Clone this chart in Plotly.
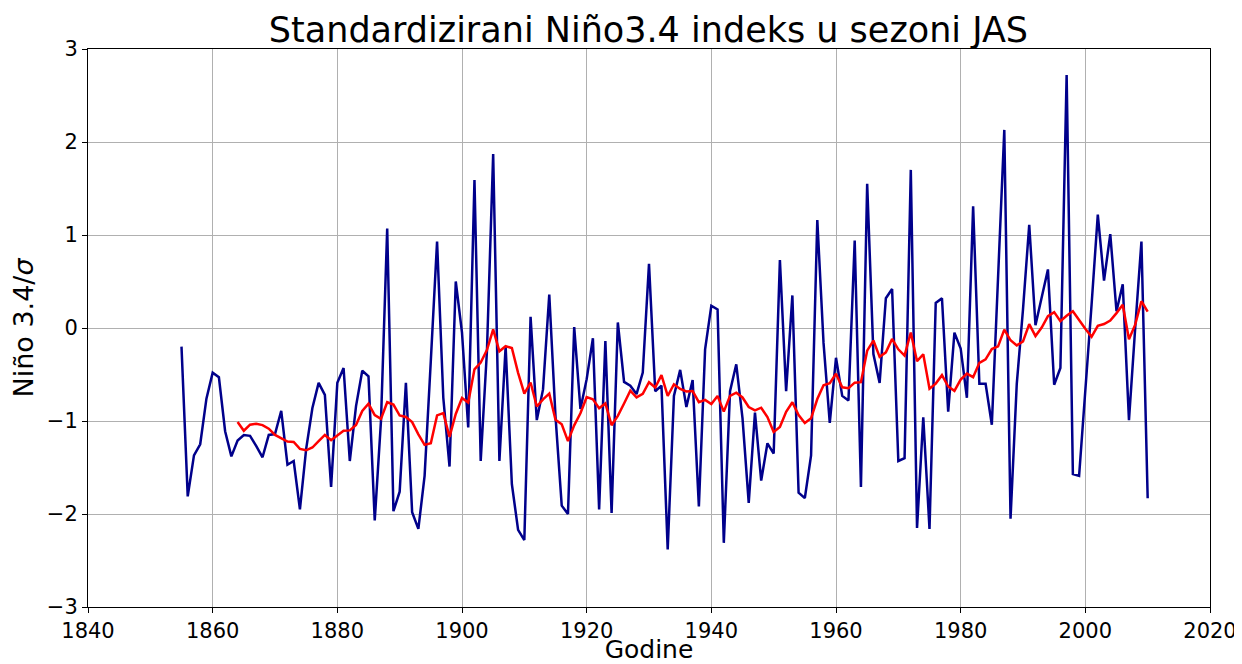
import pandas as pd
import plotly.graph_objects as go

years = list(range(1855, 2011))
nino34 = [
    -0.20, -1.81, -1.37, -1.25, -0.76, -0.48, -0.53, -1.11, -1.38, -1.21,  # 1855-1864
    -1.15, -1.16, -1.27, -1.39, -1.15, -1.14, -0.89, -1.47, -1.43, -1.95,  # 1865-1874
    -1.30, -0.86, -0.59, -0.72, -1.71, -0.59, -0.43, -1.43, -0.84, -0.46,  # 1875-1884
    -0.52, -2.07, -1.00, 1.07, -1.97, -1.76, -0.59, -1.98, -2.16, -1.59,   # 1885-1894
    -0.35, 0.93, -0.75, -1.49, 0.50, -0.05, -1.07, 1.59, -1.43, -0.25,     # 1895-1904
    1.87, -1.43, -0.20, -1.68, -2.17, -2.28, 0.12, -0.99, -0.66, 0.36,     # 1905-1914
    -0.95, -1.91, -2.00, 0.01, -0.87, -0.55, -0.11, -1.95, -0.14, -1.99,   # 1915-1924
    0.06, -0.58, -0.62, -0.71, -0.48, 0.69, -0.68, -0.62, -2.38, -0.73,    # 1925-1934
    -0.45, -0.85, -0.56, -1.92, -0.23, 0.24, 0.20, -2.31, -0.68, -0.39,    # 1935-1944
    -0.97, -1.88, -0.91, -1.64, -1.24, -1.35, 0.73, -0.68, 0.35, -1.77,    # 1945-1954
    -1.83, -1.37, 1.16, -0.16, -1.02, -0.32, -0.73, -0.78, 0.94, -1.71,    # 1955-1964
    1.55, -0.28, -0.59, 0.32, 0.42, -1.43, -1.40, 1.70, -2.15, -0.96,      # 1965-1974
    -2.16, 0.27, 0.32, -0.90, -0.05, -0.22, -0.75, 1.31, -0.60, -0.60,     # 1975-1984
    -1.04, 0.55, 2.13, -2.05, -0.60, 0.20, 1.11, 0.03, 0.32, 0.63,         # 1985-1994
    -0.61, -0.43, 2.72, -1.57, -1.59, -0.70, 0.25, 1.22, 0.51, 1.01,       # 1995-2004
    0.18, 0.47, -0.99, 0.00, 0.93, -1.83,                                  # 2005-2010
]

df = pd.DataFrame({"year": years, "nino": nino34})
df["mean10"] = df["nino"].rolling(10).mean()  # 10-year running mean

font = "DejaVu Sans"

fig = go.Figure()
fig.add_scatter(x=df["year"], y=df["nino"], mode="lines",
                line=dict(color="darkblue", width=2.5), showlegend=False)
fig.add_scatter(x=df["year"], y=df["mean10"], mode="lines",
                line=dict(color="red", width=2.5), showlegend=False)

axis_style = dict(
    automargin=False,
    showline=True, linecolor="black", linewidth=1, mirror=True,
    ticks="outside", ticklen=5, tickcolor="black", tickwidth=1,
    showgrid=True, gridcolor="#b0b0b0", gridwidth=1, zeroline=False,
    tickfont=dict(family=font, size=21, color="black"),
)

# page body has an 8px margin, so the figure is sized to fit inside the window
fig.update_layout(
    width=1234, height=656,
    margin=dict(l=80, r=32, t=41, b=57),
    plot_bgcolor="white", paper_bgcolor="white",
    font=dict(family=font, color="black"),
    title=dict(text="Standardizirani Niño3.4 indeks u sezoni JAS",
               x=0.519, xanchor="center", y=0.985, yanchor="top",
               font=dict(family=font, size=35, color="black")),
    xaxis=dict(range=[1840, 2020], dtick=20, tick0=1840,
               title=dict(text="Godine", standoff=0,
                          font=dict(family=font, size=25)),
               **axis_style),
    yaxis=dict(range=[-3, 3], dtick=1,
               title=dict(text="Niño 3.4/<i>σ</i>", standoff=8,
                          font=dict(family=font, size=27)),
               **axis_style),
)

fig.write_html("out.html")
